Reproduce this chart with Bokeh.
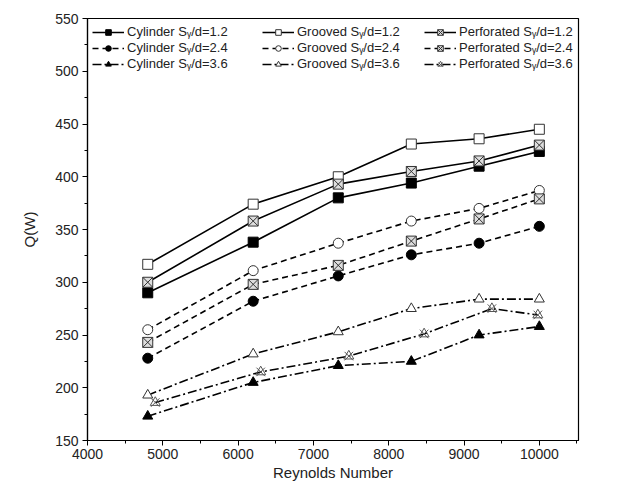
from bokeh.plotting import figure
from bokeh.models import Legend, LegendItem, Range1d, FixedTicker
from bokeh.embed import file_html
from bokeh.resources import INLINE

# ---- data ----
re_main = [4800, 6200, 7330, 8300, 9200, 10000]
re_perf36 = [4900, 6300, 7470, 8470, 9370, 9980]

cyl_12 = [290, 338, 380, 394, 410, 424]
gro_12 = [317, 374, 400, 431, 436, 445]
per_12 = [300, 358, 393, 405, 415, 430]

cyl_24 = [228, 282, 306, 326, 337, 353]
gro_24 = [255, 311, 337, 358, 370, 387]
per_24 = [243, 298, 316, 339, 360, 379]

cyl_36 = [173, 205, 221, 225, 250, 258]
gro_36 = [193, 232, 253, 275, 284, 284]
per_36 = [186, 215, 230, 251, 275, 269]

x_ticks = [4000, 5000, 6000, 7000, 8000, 9000, 10000]
y_ticks = [150, 200, 250, 300, 350, 400, 450, 500, 550]

FONT = "Liberation Sans"

p = figure(width=606, height=483, output_backend="svg", toolbar_location=None,
           x_range=Range1d(4000, 10520), y_range=Range1d(150, 550),
           min_border_left=87, min_border_right=28, min_border_top=18, min_border_bottom=40)
p.xgrid.visible = False
p.ygrid.visible = False
p.outline_line_color = "black"
p.outline_line_width = 1.2

for ax in (p.xaxis[0], p.yaxis[0]):
    ax.axis_line_color = "black"
    ax.axis_line_width = 1.2
    ax.major_tick_in = 0
    ax.major_tick_out = 5
    ax.minor_tick_in = 0
    ax.minor_tick_out = 3
    ax.major_tick_line_color = "black"
    ax.minor_tick_line_color = "black"
    ax.major_label_text_font = FONT
    ax.major_label_text_font_size = "14px"
    ax.major_label_text_color = "#222222"
    ax.axis_label_text_font = FONT
    ax.axis_label_text_font_size = "15px"
    ax.axis_label_text_font_style = "normal"
    ax.axis_label_text_color = "#222222"

p.xaxis.ticker = FixedTicker(ticks=x_ticks, minor_ticks=[4500 + 1000 * i for i in range(7)])
p.yaxis.ticker = FixedTicker(ticks=y_ticks, minor_ticks=[175 + 50 * i for i in range(8)])
p.xaxis.axis_label = "Reynolds Number"
p.yaxis.axis_label = "Q(W)"
p.xaxis.major_label_standoff = 3
p.xaxis.axis_label_standoff = 2
p.yaxis.major_label_standoff = 4
p.yaxis.axis_label_standoff = 14

LW = 1.6
MS = 10
dash = {"1.2": "solid", "2.4": "6 4", "3.6": "9 3 2 3"}

def series(x, y, d, marker, fill, lcolor="black"):
    r_line = p.line(x, y, line_color="black", line_width=LW, line_dash=dash[d])
    r_mark = p.scatter(x, y, marker=marker, size=MS, fill_color=fill, line_color=lcolor, line_width=1)
    return [r_line, r_mark]

items_cols = [[], [], []]
lab = lambda name, d: f"{name} S\u1d67/d={d}"

items_cols[0].append(LegendItem(label=lab("Cylinder", "1.2"), renderers=series(re_main, cyl_12, "1.2", "square", "black")))
items_cols[0].append(LegendItem(label=lab("Cylinder", "2.4"), renderers=series(re_main, cyl_24, "2.4", "circle", "black")))
items_cols[0].append(LegendItem(label=lab("Cylinder", "3.6"), renderers=series(re_main, cyl_36, "3.6", "triangle", "black")))

items_cols[1].append(LegendItem(label=lab("Grooved", "1.2"), renderers=series(re_main, gro_12, "1.2", "square", "white", "#333333")))
items_cols[1].append(LegendItem(label=lab("Grooved", "2.4"), renderers=series(re_main, gro_24, "2.4", "circle", "white", "#333333")))
items_cols[1].append(LegendItem(label=lab("Grooved", "3.6"), renderers=series(re_main, gro_36, "3.6", "triangle", "white", "#333333")))

items_cols[2].append(LegendItem(label=lab("Perforated", "1.2"), renderers=series(re_main, per_12, "1.2", "square_x", "#dddddd", "#333333")))
items_cols[2].append(LegendItem(label=lab("Perforated", "2.4"), renderers=series(re_main, per_24, "2.4", "square_x", "#dddddd", "#333333")))
r36 = series(re_perf36, per_36, "3.6", "triangle", None, "#555555")
r36.append(p.scatter(re_perf36, per_36, marker="x", size=MS + 2, line_color="#555555", line_width=1))
items_cols[2].append(LegendItem(label=lab("Perforated", "3.6"), renderers=r36))

frame_h = 483 - 18 - 40
legend_x = [5, 175, 337]
for i in range(3):
    lg = Legend(items=items_cols[i], location=(legend_x[i], frame_h - 6 - 50),
                label_text_font=FONT, label_text_font_size="13px", label_text_color="#222222",
                glyph_width=32, glyph_height=14, label_standoff=3, spacing=1, padding=2,
                label_height=14, border_line_color=None, background_fill_alpha=0)
    p.add_layout(lg, "center")

open("out.html", "w").write(file_html(p, INLINE))
